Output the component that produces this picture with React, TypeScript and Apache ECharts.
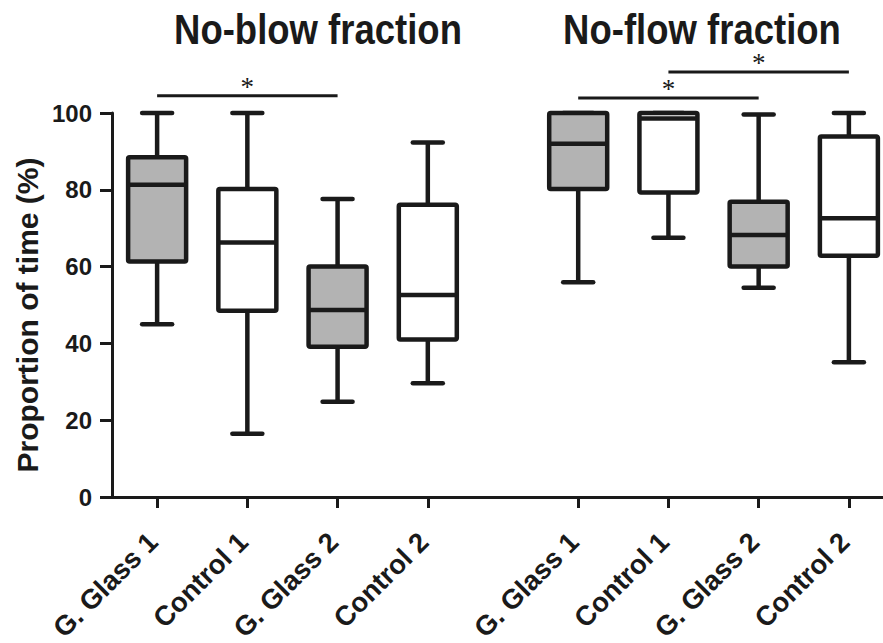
import React, { useEffect, useRef } from "react";
import * as echarts from "echarts";

// ---- data ----
const CATEGORIES = ["G. Glass 1", "Control 1", "G. Glass 2", "Control 2"];
const GROUP_TITLES = ["No-blow fraction", "No-flow fraction"];
const Y_LABEL = "Proportion of time (%)";
// [min, q1, median, q3, max]
const NO_BLOW = [
  [45, 61.3, 81.3, 88.5, 100],
  [16.5, 48.5, 66.3, 80.2, 100],
  [24.8, 39.1, 48.7, 60, 77.6],
  [29.6, 41, 52.6, 76.1, 92.3],
];
const NO_FLOW = [
  [55.9, 80.2, 92, 100, 100],
  [67.5, 79.3, 98.6, 100, 100],
  [54.5, 60, 68.2, 76.9, 99.6],
  [35.1, 62.8, 72.6, 93.9, 100],
];
const SHADED = [true, false, true, false];
// significance bars: group, from item, to item, height (y value)
const SIG_GROUP = [0, 1, 1];
const SIG_FROM = [0, 0, 1];
const SIG_TO = [2, 2, 3];
const SIG_Y = [104.5, 103.9, 110.7];
const SIG_MARK = ["*", "*", "*"];

// ---- layout ----
const SLOT_STEP = 3;
const GROUP_START = [1, 15];
const TOTAL_SLOTS = 26;
const FONT = "'Liberation Sans', Arial, Helvetica, sans-serif";
const INK = "#1a1a1a";
const GRAY = "#b3b3b3";
const LW = 4.5;
const BOX_W = 58;
const CAP_W = 30;

function slotOf(g: number, i: number) {
  return GROUP_START[g] + i * SLOT_STEP;
}

export default function App() {
  const ref = useRef<HTMLDivElement>(null);
  useEffect(() => {
    if (!ref.current) return;
    const chart = echarts.init(ref.current, null, { renderer: "svg" });

    const slots: string[] = [];
    for (let s = 0; s < TOTAL_SLOTS; s++) slots.push("");
    const groups = [NO_BLOW, NO_FLOW];
    const boxData: number[][] = [];
    groups.forEach((grp, g) => {
      grp.forEach((v, i) => {
        slots[slotOf(g, i)] = CATEGORIES[i];
        boxData.push([slotOf(g, i), v[0], v[1], v[2], v[3], v[4], SHADED[i] ? 1 : 0]);
      });
    });
    const sigData = SIG_GROUP.map((g, k) => [slotOf(g, SIG_FROM[k]), slotOf(g, SIG_TO[k]), SIG_Y[k], k]);

    const option: any = {
      animation: false,
      backgroundColor: "#ffffff",
      grid: { left: 112, top: 113, width: 782, height: 384, outerBoundsMode: "none", containLabel: false },
      xAxis: {
        type: "category",
        data: slots,
        boundaryGap: true,
        axisLine: { show: true, lineStyle: { color: INK, width: 3 } },
        axisTick: {
          show: true,
          alignWithLabel: true,
          length: 11,
          lineStyle: { color: INK, width: 3 },
          interval: (_i: number, v: string) => v !== "",
        },
        axisLabel: {
          interval: 0,
          rotate: 45,
          margin: 36,
          padding: [0, 6, 0, 0],
          fontSize: 27.5,
          fontWeight: "bold",
          fontFamily: FONT,
          color: INK,
          hideOverlap: false,
        },
        splitLine: { show: false },
      },
      yAxis: {
        type: "value",
        min: 0,
        max: 100,
        interval: 20,
        axisLine: { show: true, lineStyle: { color: INK, width: 3 } },
        axisTick: { show: true, length: 12, lineStyle: { color: INK, width: 3 } },
        axisLabel: { fontSize: 24, fontWeight: "bold", fontFamily: FONT, color: INK, margin: 20 },
        splitLine: { show: false },
      },
      graphic: [
        {
          type: "text",
          x: 318,
          y: 29,
          scaleY: 1.15,
          style: { text: GROUP_TITLES[0], font: `bold 36.5px ${FONT}`, fill: INK, textAlign: "center", textVerticalAlign: "middle" },
        },
        {
          type: "text",
          x: 702,
          y: 29,
          scaleY: 1.15,
          style: { text: GROUP_TITLES[1], font: `bold 36.5px ${FONT}`, fill: INK, textAlign: "center", textVerticalAlign: "middle" },
        },
        {
          type: "text",
          x: 27,
          y: 315,
          rotation: Math.PI / 2,
          style: { text: Y_LABEL, font: `bold 30px ${FONT}`, fill: INK, textAlign: "center", textVerticalAlign: "middle" },
        },
      ],
      series: [
        {
          type: "custom",
          data: boxData,
          encode: { x: 0, y: [1, 2, 3, 4, 5] },
          renderItem: (_p: any, api: any) => {
            const x = api.value(0);
            const cx = api.coord([x, 0])[0];
            const yLow = api.coord([x, api.value(1)])[1];
            const yQ1 = api.coord([x, api.value(2)])[1];
            const yMed = api.coord([x, api.value(3)])[1];
            const yQ3 = api.coord([x, api.value(4)])[1];
            const yHigh = api.coord([x, api.value(5)])[1];
            const fill = api.value(6) ? GRAY : "#ffffff";
            const ln = { stroke: INK, lineWidth: LW };
            const cap = { stroke: INK, lineWidth: LW, lineCap: "round" };
            return {
              type: "group",
              children: [
                { type: "line", shape: { x1: cx, y1: yHigh, x2: cx, y2: yQ3 }, style: ln },
                { type: "line", shape: { x1: cx, y1: yQ1, x2: cx, y2: yLow }, style: ln },
                { type: "line", shape: { x1: cx - CAP_W / 2, y1: yHigh, x2: cx + CAP_W / 2, y2: yHigh }, style: cap },
                { type: "line", shape: { x1: cx - CAP_W / 2, y1: yLow, x2: cx + CAP_W / 2, y2: yLow }, style: cap },
                {
                  type: "rect",
                  shape: { x: cx - BOX_W / 2, y: yQ3, width: BOX_W, height: yQ1 - yQ3, r: 1.5 },
                  style: { fill, stroke: INK, lineWidth: LW, lineJoin: "round" },
                },
                { type: "line", shape: { x1: cx - BOX_W / 2, y1: yMed, x2: cx + BOX_W / 2, y2: yMed }, style: ln },
              ],
            };
          },
          z: 5,
        },
        {
          type: "custom",
          data: sigData,
          encode: { x: [0, 1], y: 2 },
          renderItem: (_p: any, api: any) => {
            const a = api.coord([api.value(0), api.value(2)]);
            const b = api.coord([api.value(1), api.value(2)]);
            const k = api.value(3);
            return {
              type: "group",
              children: [
                { type: "line", shape: { x1: a[0], y1: a[1], x2: b[0], y2: b[1] }, style: { stroke: INK, lineWidth: 3 } },
                {
                  type: "text",
                  x: (a[0] + b[0]) / 2,
                  y: a[1] - 9,
                  style: {
                    text: SIG_MARK[k],
                    font: `27px 'Liberation Serif', 'Times New Roman', serif`,
                    fill: INK,
                    textAlign: "center",
                    textVerticalAlign: "middle",
                  },
                },
              ],
            };
          },
          z: 6,
        },
      ],
    };
    chart.setOption(option);
    return () => chart.dispose();
  }, []);
  return <div ref={ref} style={{ position: "fixed", left: 0, top: 0, width: 883, height: 643, background: "#fff" }} />;
}
